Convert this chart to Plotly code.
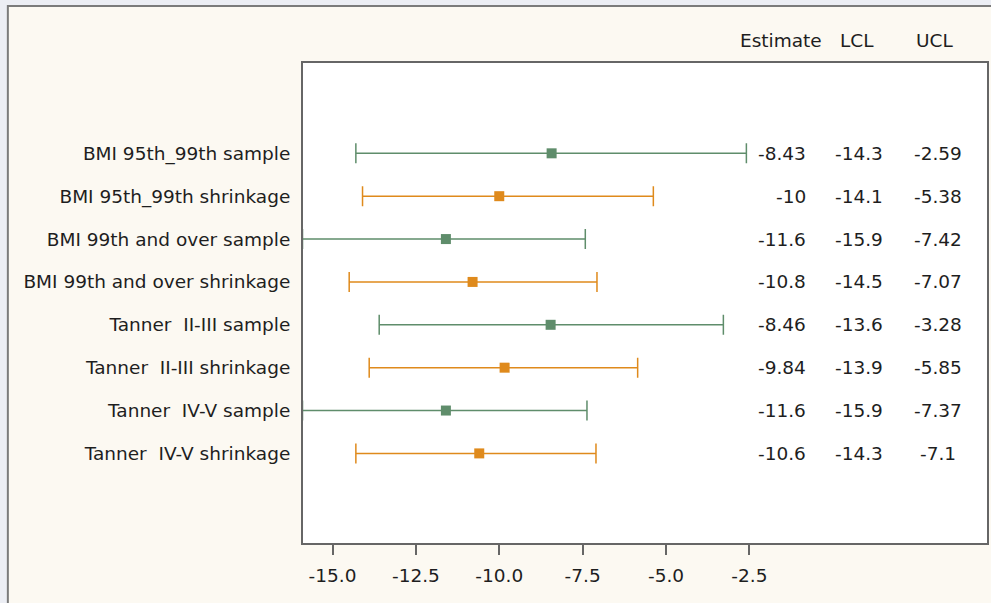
import plotly.graph_objects as go

labels = [
    "BMI 95th_99th sample",
    "BMI 95th_99th shrinkage",
    "BMI 99th and over sample",
    "BMI 99th and over shrinkage",
    "Tanner\u00a0 II-III sample",
    "Tanner\u00a0 II-III shrinkage",
    "Tanner\u00a0 IV-V sample",
    "Tanner\u00a0 IV-V shrinkage",
]
kind = ["sample", "shrinkage"] * 4
estimate = [-8.43, -10.0, -11.6, -10.8, -8.46, -9.84, -11.6, -10.6]
lcl = [-14.3, -14.1, -15.9, -14.5, -13.6, -13.9, -15.9, -14.3]
ucl = [-2.59, -5.38, -7.42, -7.07, -3.28, -5.85, -7.37, -7.1]
est_text = ["-8.43", "-10", "-11.6", "-10.8", "-8.46", "-9.84", "-11.6", "-10.6"]
lcl_text = ["-14.3", "-14.1", "-15.9", "-14.5", "-13.6", "-13.9", "-15.9", "-14.3"]
ucl_text = ["-2.59", "-5.38", "-7.42", "-7.07", "-3.28", "-5.85", "-7.37", "-7.1"]
xticks = [-15.0, -12.5, -10.0, -7.5, -5.0, -2.5]

rows = list(range(1, len(labels) + 1))
colors = {"sample": "#5f8d6b", "shrinkage": "#df8a1c"}
FONT = "DejaVu Sans"
FS = 18.5
TXT = "#1e1e1e"

W, H = 991, 603
L, R, T, B = 303, 2, 63, 60
PW, PH = W - L - R, H - T - B

def px(X):
    return (X - L) / PW

def py(Y):
    return (H - B - Y) / PH

fig = go.Figure()
for k in ["sample", "shrinkage"]:
    idx = [i for i in range(len(labels)) if kind[i] == k]
    fig.add_trace(go.Scatter(
        x=[estimate[i] for i in idx],
        y=[rows[i] for i in idx],
        mode="markers",
        marker=dict(symbol="square", size=10, color=colors[k], line=dict(width=0)),
        error_x=dict(
            type="data", symmetric=False,
            array=[ucl[i] - estimate[i] for i in idx],
            arrayminus=[estimate[i] - lcl[i] for i in idx],
            color=colors[k], thickness=1.5, width=10,
        ),
        showlegend=False,
        hoverinfo="skip",
    ))

shapes = [
    dict(type="rect", xref="paper", yref="paper", x0=px(-10), x1=px(W + 10),
         y0=py(H + 10), y1=py(-10), fillcolor="#eceef4", line=dict(width=0), layer="below"),
    dict(type="rect", xref="paper", yref="paper", x0=px(7), x1=px(W + 20),
         y0=py(H + 20), y1=py(6), fillcolor="#fcf9f2", line=dict(color="#7b7b7b", width=2), layer="below"),
    dict(type="rect", xref="paper", yref="paper", x0=0, x1=1, y0=0, y1=1,
         fillcolor="#ffffff", line=dict(width=0), layer="below"),
]

ann = []
hy = 1 + (T - 41) / PH
for name, cx in [("Estimate", 782), ("LCL", 858.5), ("UCL", 936.5)]:
    ann.append(dict(text=name, xref="paper", yref="paper", x=px(cx), y=hy,
                    xanchor="center", yanchor="middle", showarrow=False,
                    font=dict(family=FONT, size=FS, color=TXT)))
for i, r in enumerate(rows):
    ann.append(dict(text=est_text[i], xref="paper", yref="y", x=px(809), y=r,
                    xanchor="right", yanchor="middle", showarrow=False,
                    font=dict(family=FONT, size=FS, color=TXT)))
    ann.append(dict(text=lcl_text[i], xref="paper", yref="y", x=px(861), y=r,
                    xanchor="center", yanchor="middle", showarrow=False,
                    font=dict(family=FONT, size=FS, color=TXT)))
    ann.append(dict(text=ucl_text[i], xref="paper", yref="y", x=px(940), y=r,
                    xanchor="center", yanchor="middle", showarrow=False,
                    font=dict(family=FONT, size=FS, color=TXT)))

fig.update_layout(
    width=W, height=H,
    margin=dict(l=L, r=R, t=T, b=B, pad=0),
    paper_bgcolor="#fcf9f2",
    plot_bgcolor="#ffffff",
    shapes=shapes,
    annotations=ann,
    font=dict(family=FONT, size=FS, color=TXT),
    xaxis=dict(
        range=[-15.885, 4.625], tickvals=xticks,
        ticktext=[f"{v:.1f}" for v in xticks],
        showgrid=False, zeroline=False,
        showline=True, mirror=True, linecolor="#666666", linewidth=2,
        ticks="outside", ticklen=10, tickwidth=1.5, tickcolor="#666666",
        tickfont=dict(family=FONT, size=FS, color=TXT),
        ticklabelstandoff=5,
    ),
    yaxis=dict(
        range=[10.09, -1.107], tickvals=rows, ticktext=labels,
        showgrid=False, zeroline=False,
        showline=True, mirror=True, linecolor="#666666", linewidth=2,
        ticks="", tickfont=dict(family=FONT, size=FS, color=TXT),
        ticklabelstandoff=7,
    ),
)

fig.write_html("out.html")
